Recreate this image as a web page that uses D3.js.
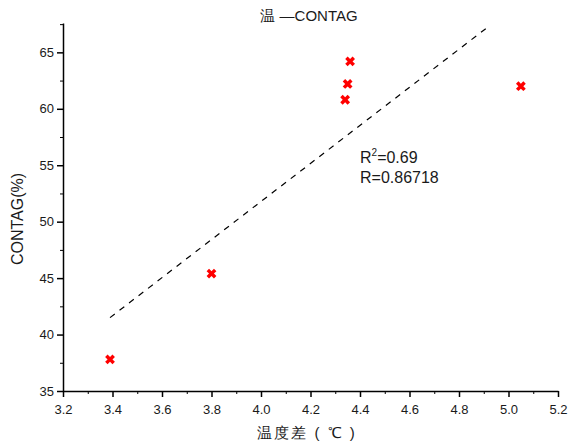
<!DOCTYPE html>
<html>
<head>
<meta charset="utf-8">
<script src="https://cdn.jsdelivr.net/npm/d3@7"></script>
<style>
  body { margin: 0; background: #fff; }
  text { font-family: "Liberation Sans", Arial, sans-serif; fill: #1a1a1a; }
</style>
</head>
<body>
<div id="chart"></div>
<script>
// data
var tempDiff = [3.39, 3.80, 4.34, 4.35, 4.36, 5.05];
var contag = [37.8, 45.4, 60.8, 62.2, 64.2, 62.0];
var fitX = [3.39, 4.92];
var fitY = [41.5, 67.3];
var xTicks = [3.2, 3.4, 3.6, 3.8, 4.0, 4.2, 4.4, 4.6, 4.8, 5.0, 5.2];
var yTicks = [35, 40, 45, 50, 55, 60, 65];
var statLines = ["R2=0.69", "R=0.86718"];

var W = 572, H = 446;
var margin = {top: 23, right: 14, bottom: 55, left: 63};
var width = W - margin.left - margin.right,
    height = H - margin.top - margin.bottom;

var svg = d3.select("#chart").append("svg")
    .attr("width", W)
    .attr("height", H);

var g = svg.append("g")
    .attr("transform", `translate(${margin.left},${margin.top})`);

var x = d3.scaleLinear().domain([3.2, 5.2]).range([0, width]);
var y = d3.scaleLinear().domain([35, 67.6]).range([height, 0]);

// minor ticks
var xMinor = d3.range(3.3, 5.2, 0.2);
var yMinor = d3.range(37.5, 67.6, 5);
g.append("g")
    .attr("transform", `translate(0,${height})`)
    .call(d3.axisBottom(x).tickValues(xMinor).tickSize(3).tickFormat(""))
    .call(a => a.select(".domain").remove());
g.append("g")
    .call(d3.axisLeft(y).tickValues(yMinor).tickSize(3).tickFormat(""))
    .call(a => a.select(".domain").remove());

// major axes
var xAxis = g.append("g")
    .attr("transform", `translate(0,${height})`)
    .call(d3.axisBottom(x).tickValues(xTicks).tickSize(6).tickSizeOuter(0).tickFormat(d3.format(".1f")));
var yAxis = g.append("g")
    .call(d3.axisLeft(y).tickValues(yTicks).tickSize(6).tickSizeOuter(0));

[xAxis, yAxis].forEach(function(a) {
    a.selectAll("path, line").attr("stroke", "#000").attr("stroke-width", 1.5);
    a.selectAll("text").style("font-size", "13px").attr("fill", "#1a1a1a");
});
xAxis.selectAll("text").attr("dy", "1.1em");

// fit line
g.append("line")
    .attr("x1", x(fitX[0])).attr("y1", y(fitY[0]))
    .attr("x2", x(fitX[1])).attr("y2", y(fitY[1]))
    .attr("stroke", "#000")
    .attr("stroke-width", 1.2)
    .attr("stroke-dasharray", "6,6");

// points
var cross = d3.symbol().type(d3.symbolCross).size(60);
g.selectAll(".pt")
    .data(tempDiff.map((d, i) => [d, contag[i]]))
  .enter().append("path")
    .attr("class", "pt")
    .attr("d", cross)
    .attr("fill", "#ff0000")
    .attr("transform", d => `translate(${x(d[0])},${y(d[1])}) rotate(45)`);

// stats text
var stat = g.append("g").attr("transform", `translate(${x(4.40)},${y(62.3)})`);
var t1 = stat.append("text").attr("x", 0).attr("y", 80).style("font-size", "16px");
t1.append("tspan").text("R");
t1.append("tspan").text("2").attr("dy", -7).style("font-size", "10px");
t1.append("tspan").text("=0.69").attr("dy", 7);
stat.append("text").attr("x", 0).attr("y", 100).style("font-size", "16px").text(statLines[1]);

// titles
svg.append("text")
    .attr("x", 309).attr("y", 21)
    .attr("text-anchor", "middle")
    .style("font-size", "15px")
    .text("温 \u2014CONTAG");

svg.append("text")
    .attr("x", 307).attr("y", 438)
    .attr("text-anchor", "middle")
    .style("font-size", "15px")
    .style("letter-spacing", "2px")
    .text("温度差 ( ℃ )");

svg.append("text")
    .attr("transform", "translate(23,219) rotate(-90)")
    .attr("text-anchor", "middle")
    .style("font-size", "16px")
    .text("CONTAG(%)");
</script>
</body>
</html>
